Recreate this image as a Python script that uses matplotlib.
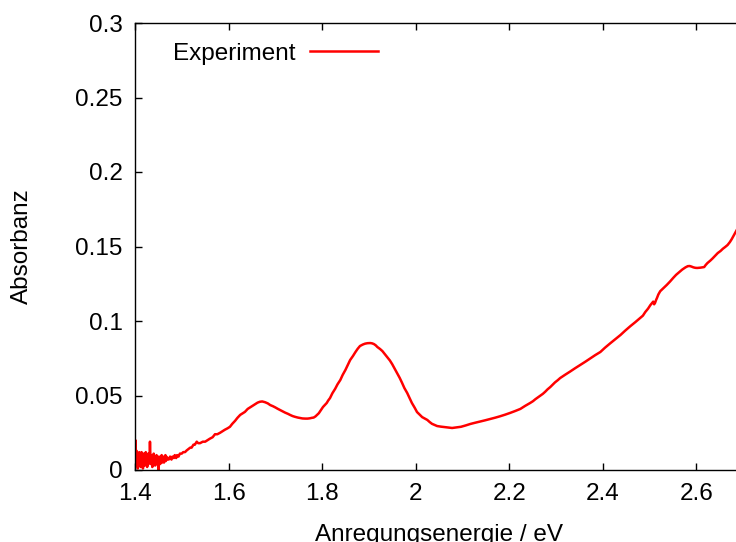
import numpy as np
import matplotlib
matplotlib.use("Agg")
import matplotlib.pyplot as plt

# values
# noisy start, 1.400 .. 1.470 in steps of 0.001
noise_energy = [round(1.400 + 0.001 * i, 3) for i in range(71)]
noise_absorbance = [
    0.010, 0.020, 0.003, 0.013, 0.006, 0.011, 0.001, 0.009, 0.004, 0.012,
    0.005, 0.010, 0.002, 0.008, 0.012, 0.004, 0.009, 0.001, 0.011, 0.006,
    0.010, 0.003, 0.008, 0.012, 0.005, 0.009, 0.002, 0.007, 0.011, 0.004,
    0.009, 0.006, 0.019, 0.008, 0.004, 0.010, 0.006, 0.002, 0.009, 0.005,
    0.011, 0.004, 0.008, 0.003, 0.009, 0.006, 0.010, 0.004, 0.008, 0.005,
    0.000, 0.009, 0.005, 0.008, 0.004, 0.009, 0.006, 0.010, 0.005, 0.008,
    0.006, 0.009, 0.005, 0.008, 0.007, 0.010, 0.006, 0.009, 0.007, 0.008,
    0.008,
]
# rest of the curve
curve_energy = [
    1.472, 1.475, 1.478, 1.480, 1.483, 1.485, 1.488, 1.490, 1.493,
    1.496, 1.500, 1.503, 1.507, 1.510, 1.514, 1.518, 1.521, 1.525, 1.528,
    1.532, 1.535, 1.539, 1.545, 1.550, 1.555, 1.560, 1.566, 1.571,
    1.576, 1.582, 1.587, 1.592, 1.598, 1.603, 1.608, 1.614, 1.619, 1.625,
    1.630, 1.635, 1.641, 1.646, 1.651, 1.656, 1.662, 1.667, 1.672, 1.678,
    1.684, 1.689, 1.695, 1.700, 1.705, 1.710, 1.716, 1.721, 1.727, 1.732,
    1.737, 1.742, 1.748, 1.753, 1.758, 1.764, 1.769, 1.774, 1.778, 1.782,
    1.786, 1.789, 1.793, 1.796, 1.799, 1.802, 1.806, 1.810, 1.813, 1.817,
    1.822, 1.828, 1.833, 1.839, 1.844, 1.850, 1.855, 1.860, 1.866, 1.871,
    1.876, 1.881, 1.887, 1.892, 1.897, 1.903, 1.907, 1.911, 1.915, 1.918,
    1.924, 1.929, 1.934, 1.939, 1.945, 1.950, 1.955, 1.960, 1.966, 1.971,
    1.976, 1.982, 1.987, 1.992, 1.998, 2.003, 2.009, 2.014, 2.020, 2.025,
    2.030, 2.035, 2.041, 2.046, 2.054, 2.062, 2.070, 2.078, 2.088, 2.097,
    2.107, 2.117, 2.127, 2.138, 2.148, 2.159, 2.170, 2.180, 2.191, 2.202,
    2.213, 2.224, 2.234, 2.245, 2.251, 2.256, 2.261, 2.266, 2.272, 2.277,
    2.282, 2.288, 2.293, 2.298, 2.304, 2.309, 2.320, 2.330, 2.341, 2.352,
    2.363, 2.374, 2.384, 2.395, 2.405, 2.416, 2.427, 2.438, 2.448, 2.459,
    2.470, 2.480, 2.486, 2.491, 2.497, 2.502, 2.505, 2.508, 2.510, 2.512,
    2.514, 2.516, 2.519, 2.523, 2.530, 2.537, 2.544, 2.551, 2.557, 2.564,
    2.570, 2.577, 2.582, 2.586, 2.590, 2.594, 2.598, 2.602, 2.606, 2.609,
    2.613, 2.617, 2.620, 2.624, 2.630, 2.635, 2.641, 2.646, 2.652, 2.657,
    2.662, 2.667, 2.672, 2.676, 2.680, 2.684, 2.692, 2.700,
]
curve_absorbance = [
    0.007, 0.009, 0.007, 0.009, 0.008, 0.010, 0.008, 0.010, 0.009,
    0.011, 0.011, 0.012, 0.012, 0.013, 0.014, 0.015, 0.015, 0.017, 0.017,
    0.019, 0.018, 0.018, 0.019, 0.019, 0.020, 0.021, 0.022, 0.024,
    0.024, 0.025, 0.026, 0.027, 0.028, 0.029, 0.031, 0.033, 0.035, 0.037,
    0.038, 0.039, 0.041, 0.042, 0.043, 0.044, 0.0452, 0.0458, 0.0460, 0.0455,
    0.0447, 0.0436, 0.0428, 0.0420, 0.0411, 0.0403, 0.0394, 0.0385, 0.0377, 0.0369,
    0.0362, 0.0357, 0.0352, 0.0349, 0.0346, 0.0345, 0.0345, 0.0347, 0.0350, 0.0352,
    0.0360, 0.0369, 0.0381, 0.0395, 0.0409, 0.0423, 0.0436, 0.0450, 0.0466, 0.0483,
    0.0515, 0.0545, 0.0575, 0.0604, 0.0638, 0.0672, 0.0705, 0.0738, 0.0765, 0.0790,
    0.0813, 0.0832, 0.0842, 0.0848, 0.0851, 0.0852, 0.0850, 0.0845, 0.0836, 0.0826,
    0.0812, 0.0798, 0.0778, 0.0758, 0.0735, 0.0710, 0.0681, 0.0651, 0.0618, 0.0585,
    0.0550, 0.0517, 0.0483, 0.0450, 0.0418, 0.0389, 0.0370, 0.0355, 0.0345, 0.0336,
    0.0322, 0.0310, 0.0302, 0.0295, 0.0291, 0.0288, 0.0285, 0.0282, 0.0286, 0.0290,
    0.0299, 0.0309, 0.0317, 0.0325, 0.0333, 0.0342, 0.0351, 0.0360, 0.0371, 0.0383,
    0.0396, 0.0410, 0.0430, 0.0450, 0.0462, 0.0475, 0.0486, 0.0497, 0.0511, 0.0525,
    0.0541, 0.0557, 0.0573, 0.0588, 0.0603, 0.0617, 0.0640, 0.0660, 0.0683, 0.0705,
    0.0727, 0.0750, 0.0771, 0.0792, 0.0821, 0.0850, 0.0878, 0.0906, 0.0935, 0.0965,
    0.0993, 0.1020, 0.1036, 0.1060, 0.1083, 0.1107, 0.1118, 0.1130, 0.1112, 0.1122,
    0.1140, 0.1154, 0.1178, 0.1200, 0.1221, 0.1242, 0.1265, 0.1290, 0.1310, 0.1329,
    0.1345, 0.1360, 0.1368, 0.1369, 0.1365, 0.1360, 0.1357, 0.1356, 0.1357, 0.1358,
    0.1360, 0.1362, 0.1375, 0.1389, 0.1405, 0.1420, 0.1440, 0.1456, 0.1470, 0.1485,
    0.1497, 0.1510, 0.1530, 0.1550, 0.1573, 0.1597, 0.1640, 0.1690,
]
energy = noise_energy + curve_energy
absorbance = noise_absorbance + curve_absorbance

xticks = [1.4, 1.6, 1.8, 2.0, 2.2, 2.4, 2.6]
xticklabels = ["1.4", "1.6", "1.8", "2", "2.2", "2.4", "2.6"]
yticks = [0, 0.05, 0.1, 0.15, 0.2, 0.25, 0.3]
yticklabels = ["0", "0.05", "0.1", "0.15", "0.2", "0.25", "0.3"]

plt.rcParams["font.family"] = ["Liberation Sans", "DejaVu Sans"]
fs = 17.5

fig = plt.figure(figsize=(7.36, 5.42), dpi=100)
# plot box runs a little past the right edge of the image, as in the reference
ax = fig.add_axes([135 / 736, 72 / 542, 608 / 736, 447 / 542])

ax.plot(energy, absorbance, color="red", lw=1.8, label="Experiment")

ax.set_xlim(1.4, 2.7)
ax.set_ylim(0, 0.3)
ax.set_xticks(xticks)
ax.set_xticklabels(xticklabels)
ax.set_yticks(yticks)
ax.set_yticklabels(yticklabels)
ax.tick_params(direction="in", length=5, width=1, labelsize=fs,
               top=True, right=True)
ax.tick_params(axis="x", pad=9)
ax.tick_params(axis="y", pad=9)
for s in ax.spines.values():
    s.set_linewidth(1)

ax.set_xlabel("Anregungsenergie / eV", fontsize=fs, labelpad=14)
ax.set_ylabel("Absorbanz", fontsize=fs, labelpad=30)

ax.legend(loc="upper left", bbox_to_anchor=(0.027, 1.005), frameon=False,
          markerfirst=False, fontsize=fs, handlelength=2.8, handletextpad=0.6)

fig.savefig("out.png", dpi=100)
